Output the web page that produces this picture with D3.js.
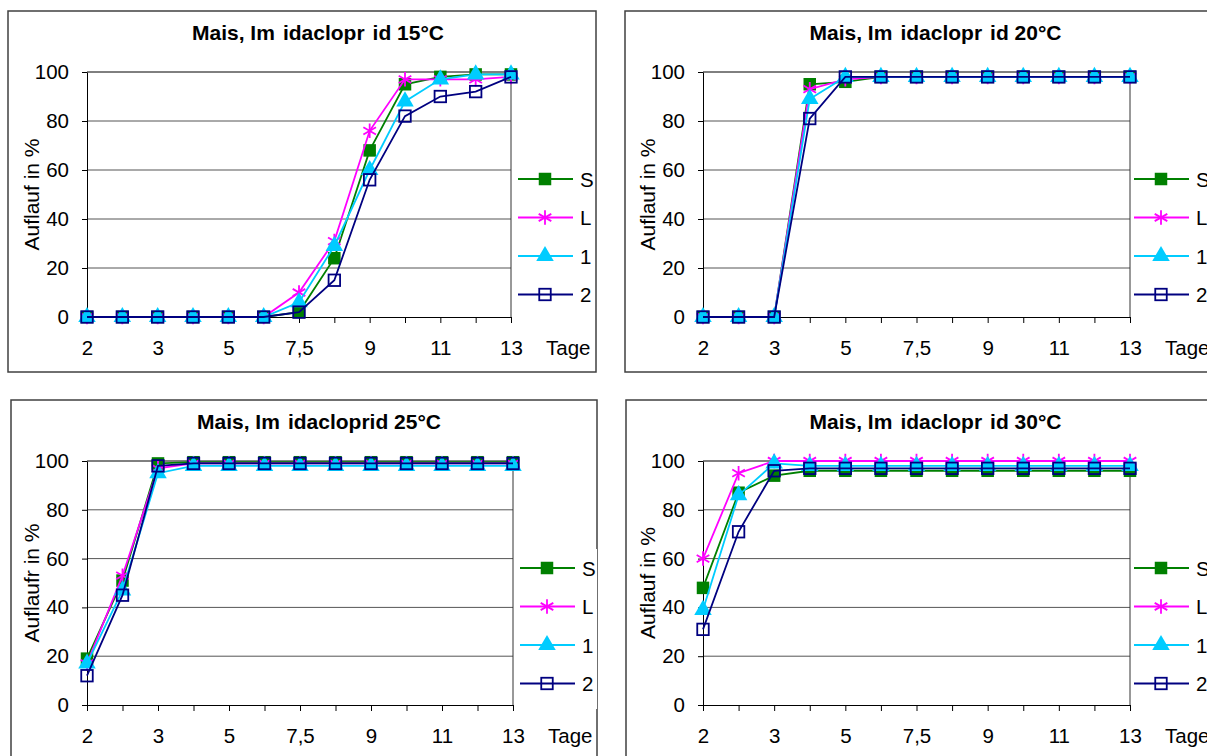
<!DOCTYPE html>
<html>
<head>
<meta charset="utf-8">
<script src="https://cdn.jsdelivr.net/npm/d3@7"></script>
<style>
  body { margin: 0; background: #fff; }
  text { font-family: "Liberation Sans", Arial, sans-serif; fill: #000; }
</style>
</head>
<body>
<div id="graf"></div>
<script>
// Tage (Kategorien), nur jede zweite wird beschriftet
const tage = ["2", "2,5", "3", "4", "5", "6", "7,5", "8", "9", "10", "11", "12", "13"]
const serien = ["S", "L", "1", "2"]
const yTicks = [0, 20, 40, 60, 80, 100]

// 15°C
const t15_S = [0, 0, 0, 0, 0, 0, 2, 24, 68, 95, 98, 99, 99]
const t15_L = [0, 0, 0, 0, 0, 0, 10, 31, 76, 97, 97, 97, 98]
const t15_1 = [0, 0, 0, 0, 0, 0, 6, 29, 60, 88, 97, 99, 99]
const t15_2 = [0, 0, 0, 0, 0, 0, 2, 15, 56, 82, 90, 92, 98]
// 20°C
const t20_S = [0, 0, 0, 95, 96, 98, 98, 98, 98, 98, 98, 98, 98]
const t20_L = [0, 0, 0, 93, 97, 98, 98, 98, 98, 98, 98, 98, 98]
const t20_1 = [0, 0, 0, 89, 98, 98, 98, 98, 98, 98, 98, 98, 98]
const t20_2 = [0, 0, 0, 81, 98, 98, 98, 98, 98, 98, 98, 98, 98]
// 25°C
const t25_S = [19, 51, 99, 99.5, 99.5, 99.5, 99.5, 99.5, 99.5, 99.5, 99.5, 99.5, 99.5]
const t25_L = [17, 53, 97, 99, 99, 99, 99, 99, 99, 99, 99, 99, 99]
const t25_1 = [17, 47, 95, 98, 98, 98, 98, 98, 98, 98, 98, 98, 98]
const t25_2 = [12, 45, 98, 99, 99, 99, 99, 99, 99, 99, 99, 99, 99]
// 30°C
const t30_S = [48, 87, 94, 96, 96, 96, 96, 96, 96, 96, 96, 96, 96]
const t30_L = [60, 95, 100, 100, 100, 100, 100, 100, 100, 100, 100, 100, 100]
const t30_1 = [39, 86, 99, 98, 98, 98, 98, 98, 98, 98, 98, 98, 98]
const t30_2 = [31, 71, 96, 97, 97, 97, 97, 97, 97, 97, 97, 97, 97]

const farben = { S: "#008000", L: "#ff00ff", "1": "#00ccff", "2": "#000080" }

// Layout der vier Diagramme
const panels = [
  { titel: ["Mais, Im", "idaclopr", "id 15°C"], yTitel: "Auflauf in %", frame: [8, 11, 588, 361],
    left: 87, right: 511, top: 72, bottom: 317, legX: 518, werte: [t15_S, t15_L, t15_1, t15_2] },
  { titel: ["Mais, Im", "idaclopr", "id 20°C"], yTitel: "Auflauf in %", frame: [625, 11, 700, 361],
    left: 703, right: 1130, top: 72, bottom: 317, legX: 1134, werte: [t20_S, t20_L, t20_1, t20_2] },
  { titel: ["Mais, Im", "idacloprid 25°C"], yTitel: "Auflaufr in %", frame: [11, 400, 586, 400],
    left: 87, right: 513, top: 461, bottom: 705, legX: 520, werte: [t25_S, t25_L, t25_1, t25_2] },
  { titel: ["Mais, Im", "idaclopr", "id 30°C"], yTitel: "Auflauf in %", frame: [626, 400, 700, 400],
    left: 703, right: 1130, top: 461, bottom: 705, legX: 1134, werte: [t30_S, t30_L, t30_1, t30_2] },
]

const svg = d3.select("#graf").append("svg")
  .attr("width", 1207)
  .attr("height", 756)

svg.append("rect").attr("width", 1207).attr("height", 756).attr("fill", "#fff")

// Marker je Serie
const marker = (sel, name, size) => {
  const c = farben[name]
  if (name === "S") {
    sel.append("rect").attr("x", -size / 2).attr("y", -size / 2)
      .attr("width", size).attr("height", size).attr("fill", c)
  } else if (name === "L") {
    const r = size / 2 + 1
    const a = r * 0.87, b = r * 0.5
    sel.append("path")
      .attr("d", `M0,${-r}V${r}M${-a},${-b}L${a},${b}M${-a},${b}L${a},${-b}`)
      .attr("stroke", c).attr("stroke-width", 1.8).attr("fill", "none")
  } else if (name === "1") {
    sel.append("path").attr("d", d3.symbol(d3.symbolTriangle, size * size * 0.85)())
      .attr("fill", c)
  } else {
    sel.append("rect").attr("x", -size / 2 + 0.5).attr("y", -size / 2 + 0.5)
      .attr("width", size - 1).attr("height", size - 1)
      .attr("fill", "none").attr("stroke", c).attr("stroke-width", 1.8)
  }
}

panels.forEach((p) => {
  const g = svg.append("g")

  g.append("rect")
    .attr("x", p.frame[0]).attr("y", p.frame[1])
    .attr("width", p.frame[2]).attr("height", p.frame[3])
    .attr("fill", "none").attr("stroke", "#404040").attr("stroke-width", 1.5)

  const x = d3.scalePoint().domain(tage).range([p.left, p.right])
  const y = d3.scaleLinear().domain([0, 100]).range([p.bottom, p.top])

  // Gitternetz
  g.selectAll(".grid").data([20, 40, 60, 80]).join("line")
    .attr("x1", p.left).attr("x2", p.right)
    .attr("y1", (d) => y(d)).attr("y2", (d) => y(d))
    .attr("stroke", "#555").attr("stroke-width", 1)
  g.append("line").attr("x1", p.left).attr("x2", p.right)
    .attr("y1", y(100)).attr("y2", y(100)).attr("stroke", "#000")
  g.append("line").attr("x1", p.right).attr("x2", p.right)
    .attr("y1", y(100)).attr("y2", y(0)).attr("stroke", "#333")

  // Achsen
  const yAxis = d3.axisLeft(y).tickValues(yTicks).tickSize(5).tickSizeOuter(0).tickPadding(13)
  const yg = g.append("g").attr("transform", `translate(${p.left},0)`).call(yAxis)
  const xAxis = d3.axisBottom(x).tickSize(6).tickSizeOuter(0).tickPadding(17)
    .tickFormat((d, i) => (i % 2 === 0 ? d : ""))
  const xg = g.append("g").attr("transform", `translate(0,${p.bottom})`).call(xAxis)
  for (const ax of [yg, xg]) {
    ax.selectAll("text").style("font-size", "20.5px").attr("fill", "#000")
    ax.selectAll("line").attr("stroke", "#000")
    ax.select(".domain").attr("stroke", "#000")
  }

  g.append("text").attr("x", p.right + 35).attr("y", p.bottom + 38)
    .style("font-size", "20.5px").text("Tage")

  g.append("text")
    .attr("transform", `translate(${p.left - 48},${(p.top + p.bottom) / 2}) rotate(-90)`)
    .attr("text-anchor", "middle").style("font-size", "21px").text(p.yTitel)

  const t = g.append("text").attr("x", (p.left + p.right) / 2 + 19).attr("y", p.top - 32)
    .attr("text-anchor", "middle").style("font-size", "21px").style("font-weight", "bold")
  p.titel.forEach((s, i) => t.append("tspan").attr("dx", i === 0 ? 0 : 8).text(s))

  // Serien
  serien.forEach((name, k) => {
    const werte = p.werte[k]
    const linie = d3.line().x((d, i) => x(tage[i])).y((d) => y(d))
    g.append("path").datum(werte).attr("d", linie)
      .attr("fill", "none").attr("stroke", farben[name]).attr("stroke-width", 1.8)
    werte.forEach((v, i) => {
      const m = g.append("g").attr("transform", `translate(${x(tage[i])},${y(v)})`)
      marker(m, name, 12.5)
    })
  })

  // Legende
  const lg = g.append("g")
  lg.append("rect").attr("x", p.legX - 3).attr("y", p.top + 88)
    .attr("width", 80).attr("height", 160).attr("fill", "#fff")
  serien.forEach((name, k) => {
    const ly = p.top + 107 + k * 38.5
    lg.append("line").attr("x1", p.legX).attr("x2", p.legX + 55)
      .attr("y1", ly).attr("y2", ly)
      .attr("stroke", farben[name]).attr("stroke-width", 1.8)
    marker(lg.append("g").attr("transform", `translate(${p.legX + 27},${ly})`), name, 12.5)
    lg.append("text").attr("x", p.legX + 62).attr("y", ly + 7.5)
      .style("font-size", "20.5px").text(name)
  })
})
</script>
</body>
</html>
